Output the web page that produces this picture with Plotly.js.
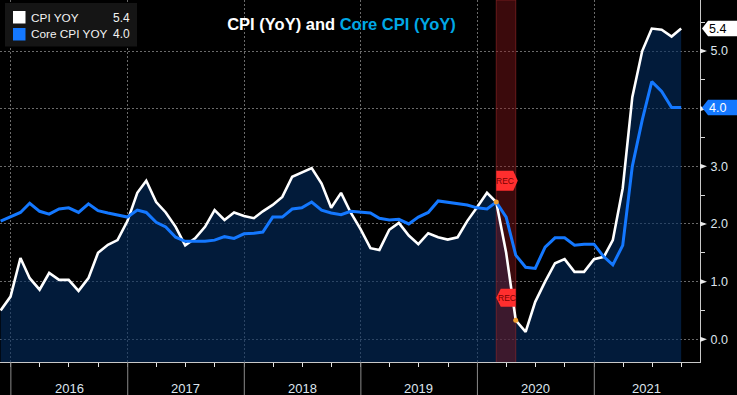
<!DOCTYPE html>
<html><head><meta charset="utf-8">
<script src="https://cdn.plot.ly/plotly-3.0.1.min.js"></script>
<style>html,body{margin:0;padding:0;background:#000;}#chart{width:737px;height:395px;}</style>
</head><body><div id="chart"></div>
<script>
// ---- data ----
const months = [
 '2015-11','2015-12',
 '2016-01','2016-02','2016-03','2016-04','2016-05','2016-06','2016-07','2016-08','2016-09','2016-10','2016-11','2016-12',
 '2017-01','2017-02','2017-03','2017-04','2017-05','2017-06','2017-07','2017-08','2017-09','2017-10','2017-11','2017-12',
 '2018-01','2018-02','2018-03','2018-04','2018-05','2018-06','2018-07','2018-08','2018-09','2018-10','2018-11','2018-12',
 '2019-01','2019-02','2019-03','2019-04','2019-05','2019-06','2019-07','2019-08','2019-09','2019-10','2019-11','2019-12',
 '2020-01','2020-02','2020-03','2020-04','2020-05','2020-06','2020-07','2020-08','2020-09','2020-10','2020-11','2020-12',
 '2021-01','2021-02','2021-03','2021-04','2021-05','2021-06','2021-07','2021-08','2021-09'];
const cpiYoY = [
 0.50,0.74,
 1.41,1.06,0.86,1.15,1.03,1.03,0.84,1.06,1.50,1.64,1.72,2.05,
 2.54,2.75,2.38,2.20,1.95,1.63,1.75,1.95,2.24,2.07,2.20,2.14,
 2.10,2.22,2.33,2.47,2.82,2.90,2.97,2.70,2.28,2.54,2.20,1.91,
 1.58,1.55,1.90,2.02,1.80,1.65,1.84,1.77,1.73,1.77,2.05,2.29,
 2.54,2.38,1.50,0.33,0.13,0.65,1.00,1.32,1.39,1.17,1.17,1.39,
 1.43,1.72,2.62,4.20,5.00,5.39,5.37,5.25,5.39];
const coreCpiYoY = [
 2.05,2.12,
 2.20,2.36,2.22,2.17,2.26,2.28,2.20,2.35,2.23,2.19,2.16,2.12,
 2.24,2.20,2.03,1.95,1.77,1.70,1.70,1.70,1.72,1.78,1.75,1.83,
 1.84,1.86,2.12,2.12,2.26,2.28,2.38,2.24,2.19,2.16,2.22,2.20,
 2.19,2.10,2.07,2.08,2.00,2.12,2.20,2.40,2.38,2.35,2.33,2.28,
 2.26,2.38,2.12,1.46,1.25,1.23,1.60,1.76,1.76,1.63,1.65,1.65,
 1.43,1.29,1.63,3.00,3.80,4.47,4.30,4.02,4.02];
const seriesNames = ['CPI YOY','Core CPI YOY'];
const years = ['2016','2017','2018','2019','2020','2021'];
const yTicks = [0,1,2,3,4,5];
const recession = ['2020-02-29','2020-04-30'];
const recFlagLevels = [2.75, 0.72];
const xRange = ['2015-11-28','2021-11-28'];
const yRange = [-0.394, 5.885];

// ---- styling ----
const WHITE = '#ffffff', BLUE = '#1478ff', CYAN = '#00a8e6';
const FONT = 'Liberation Sans, Arial, sans-serif';
const TXT = '#dde5ee';
const W = 700, H = 362;             // plot area in px
const px = v => v / W;              // px -> paper x
const py = v => 1 - v / H;          // px -> paper y

function monthEnd(s){ const p = s.split('-').map(Number); return new Date(Date.UTC(p[0], p[1], 0)).toISOString().slice(0,10); }
const xs = months.map(monthEnd);
const baseY = xs.map(() => yRange[0]);
const lastCpi = cpiYoY[cpiYoY.length-1], lastCore = coreCpiYoY[coreCpiYoY.length-1];

const recIdx = recession.map(d => xs.indexOf(d));

const traces = [
 {x: xs, y: baseY, mode:'lines', line:{width:0, color:'rgba(0,0,0,0)'}, hoverinfo:'skip', showlegend:false},
 {x: xs, y: cpiYoY, mode:'lines', fill:'tonexty', fillcolor:'rgba(3,45,97,0.6)', line:{width:0, color:'rgba(0,0,0,0)'}, hoverinfo:'skip', showlegend:false},
 {x: [recession[0],recession[0],recession[1],recession[1]], y:[yRange[0],yRange[1],yRange[1],yRange[0]],
  mode:'lines', fill:'toself', fillcolor:'rgba(140,25,28,0.42)', line:{width:1, color:'rgba(150,40,40,0.6)'}, hoverinfo:'skip', showlegend:false},
 {x: xs, y: cpiYoY, mode:'lines', name: seriesNames[0], line:{color: WHITE, width:2.6}},
 {x: xs, y: coreCpiYoY, mode:'lines', name: seriesNames[1], line:{color: BLUE, width:3}},
 {x: recIdx.map(i => xs[i]), y: recIdx.map(i => cpiYoY[i]), mode:'markers', marker:{color:'#f0a030', size:5}, hoverinfo:'skip', showlegend:false}
];

const shapes = [];
const annotations = [];

// year separator lines below axis
years.forEach(y => shapes.push({type:'line', xref:'x', yref:'paper', x0: y+'-01-01', x1: y+'-01-01', y0: -33/H, y1: 0, line:{color:'#8a8a8a', width:1}}));
// year labels centered in visible span
const r0 = Date.parse(xRange[0]), r1 = Date.parse(xRange[1]);
years.forEach(y => {
  const a = Math.max(Date.parse(y+'-01-01'), r0), b = Math.min(Date.parse((+y+1)+'-01-01'), r1);
  annotations.push({xref:'x', yref:'paper', x: new Date((a+b)/2).toISOString().slice(0,10), y: -26/H, text: y, showarrow:false, yanchor:'middle', xanchor:'center', font:{family:FONT, size:13, color:TXT}});
});
// right axis triangles
yTicks.forEach(v => shapes.push({type:'path', xref:'paper', yref:'y', xsizemode:'pixel', ysizemode:'pixel', xanchor:1, yanchor:v,
  path:'M0,-2.6 L7,0 L0,2.6 Z', fillcolor:'#e8e8e8', line:{width:0}}));
// last value labels
[[lastCpi, WHITE, '#000000'], [lastCore, BLUE, '#ffffff']].forEach(([v, bg, fg]) => {
  shapes.push({type:'path', xref:'paper', yref:'y', xsizemode:'pixel', ysizemode:'pixel', xanchor:1, yanchor:v,
    path:'M2,0 L8,7.8 L37,7.8 L37,-7.8 L8,-7.8 Z', fillcolor:bg, line:{width:0}});
  annotations.push({xref:'paper', yref:'y', x:1, y:v, xshift:17.5, text:v.toFixed(1), showarrow:false, xanchor:'center', yanchor:'middle', font:{family:FONT, size:12.5, color:fg}});
});
// REC flags
shapes.push({type:'path', xref:'x', yref:'y', xsizemode:'pixel', ysizemode:'pixel', xanchor:recession[0], yanchor:recFlagLevels[0],
  path:'M0,-10 L17,-10 L21.5,0 L17,10 L0,10 Z', fillcolor:'#ff2e2e', line:{width:0}});
shapes.push({type:'path', xref:'x', yref:'y', xsizemode:'pixel', ysizemode:'pixel', xanchor:recession[1], yanchor:recFlagLevels[1],
  path:'M0,-9 L-15,-9 L-19.5,0 L-15,9 L0,9 Z', fillcolor:'#ff2e2e', line:{width:0}});
annotations.push({xref:'x', yref:'y', x:recession[0], y:recFlagLevels[0], xshift:9, text:'REC', showarrow:false, font:{family:FONT, size:8.5, color:'#7a0000'}});
annotations.push({xref:'x', yref:'y', x:recession[1], y:recFlagLevels[1], xshift:-9, text:'REC', showarrow:false, font:{family:FONT, size:8.5, color:'#7a0000'}});
// legend box
shapes.push({type:'rect', xref:'paper', yref:'paper', x0:px(5), x1:px(137), y0:py(46.5), y1:py(3), fillcolor:'#151515', line:{width:0}, layer:'above'});
shapes.push({type:'rect', xref:'paper', yref:'paper', x0:px(13), x1:px(25.5), y0:py(23.5), y1:py(11), fillcolor:WHITE, line:{width:0}, layer:'above'});
shapes.push({type:'rect', xref:'paper', yref:'paper', x0:px(13), x1:px(25.5), y0:py(40.5), y1:py(28), fillcolor:BLUE, line:{width:0}, layer:'above'});
[[seriesNames[0], lastCpi, 17.5], [seriesNames[1], lastCore, 34.5]].forEach(([n, v, yy]) => {
  annotations.push({xref:'paper', yref:'paper', x:px(28.5), y:py(yy), text:n, showarrow:false, xanchor:'left', yanchor:'middle', font:{family:FONT, size:11.8, color:'#f2f2f2'}});
  annotations.push({xref:'paper', yref:'paper', x:px(132), y:py(yy), text:v.toFixed(1), showarrow:false, xanchor:'right', yanchor:'middle', font:{family:FONT, size:12, color:'#f2f2f2'}});
});

const layout = {
  width:737, height:395,
  margin:{l:0, r:37, t:0, b:33, pad:0},
  paper_bgcolor:'#000000', plot_bgcolor:'#000000',
  showlegend:false,
  title:{text:'<b>CPI (YoY) and <span style="color:'+CYAN+'">Core CPI (YoY)</span></b>', font:{family:FONT, size:16.5, color:'#ffffff'},
         xref:'container', yref:'container', x:341.5/737, xanchor:'center', y:1-24/395, yanchor:'middle'},
  xaxis:{type:'date', range:xRange, showgrid:true, gridcolor:'#6a6a6a', griddash:'2px,2px', gridwidth:1,
         tickmode:'linear', tick0:'2016-01-01', dtick:'M12', ticks:'outside', ticklen:4, tickcolor:'#8a8a8a',
         showticklabels:false, showline:true, linecolor:'#c8c8c8', linewidth:1, zeroline:false,
         minor:{tickmode:'linear', tick0:'2016-01-01', dtick:'M3', ticks:'outside', ticklen:4, tickcolor:'#e6e6e6', showgrid:false}},
  yaxis:{range:yRange, side:'right', tickmode:'array', tickvals:yTicks, ticktext:yTicks.map(v=>v.toFixed(1)),
         showgrid:true, gridcolor:'#6a6a6a', griddash:'2px,2px', gridwidth:1, ticks:'', showline:true, linecolor:'#c8c8c8', linewidth:1,
         zeroline:false, ticklabelstandoff:7, tickfont:{family:FONT, size:12.5, color:TXT},
         minor:{tickmode:'linear', tick0:0, dtick:0.5, ticks:'outside', ticklen:4, tickcolor:'#d8d8d8', showgrid:false}},
  shapes: shapes,
  annotations: annotations
};
Plotly.newPlot('chart', traces, layout, {displayModeBar:false, staticPlot:true});
</script></body></html>
